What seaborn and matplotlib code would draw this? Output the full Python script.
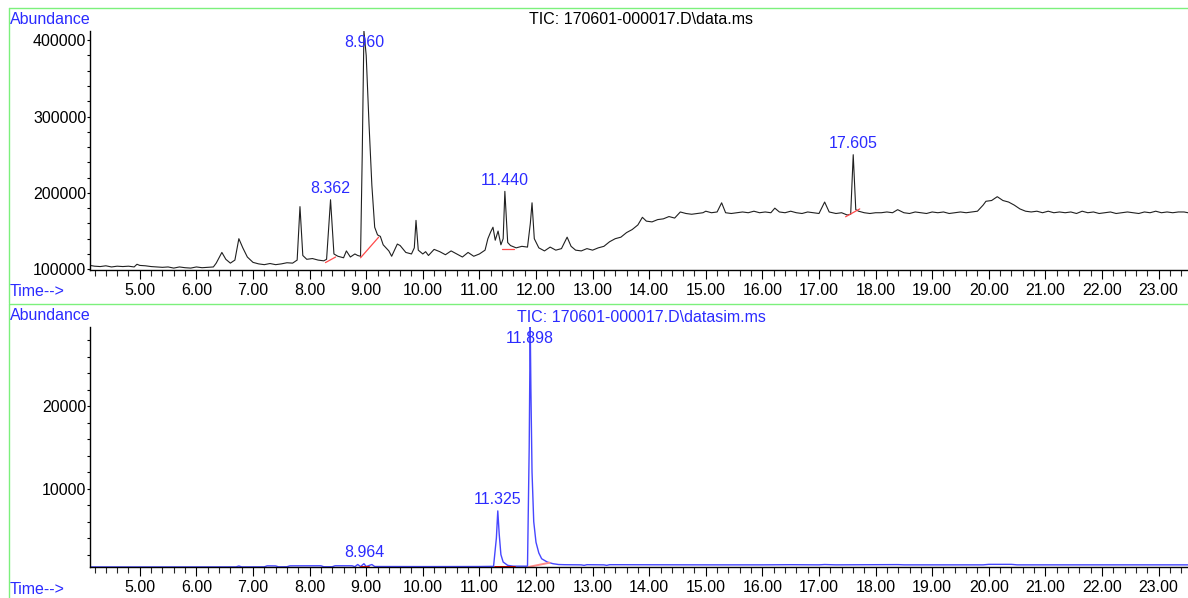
"""
plot.py

GC-MS chromatogram: TIC scan trace (top) and SIM trace (bottom).
"""

import matplotlib
matplotlib.use("Agg")

import matplotlib.pyplot as plt
from matplotlib.ticker import MultipleLocator
from matplotlib.lines import Line2D
import seaborn as sns
import numpy as np
import pandas as pd

sns.set_theme(style="white")

plt.rcParams["font.family"] = ["Liberation Sans", "DejaVu Sans"]
plt.rcParams["font.size"] = 11.5

BLUE = "#2b2bff"
TRACE_BLUE = "#4646ff"
RED = "#ff4a4a"
GREEN = "#7cf07c"

# =====================================================
# Data
# =====================================================

# scan TIC, retention time (min) and abundance (thousands)
tic_rt = [
    4.12, 4.2, 4.3, 4.4, 4.5, 4.6, 4.7, 4.8, 4.9, 4.95,
    5.0, 5.1, 5.2, 5.3, 5.4, 5.5, 5.6, 5.7, 5.8, 5.9,
    6.0, 6.1, 6.2, 6.3, 6.35, 6.45, 6.52, 6.6, 6.68, 6.75,
    6.82, 6.9, 7.0, 7.1, 7.2, 7.3, 7.4, 7.5, 7.6, 7.7,
    7.78, 7.83, 7.88, 7.95, 8.05, 8.15, 8.25, 8.3, 8.37, 8.43,
    8.5, 8.6, 8.65, 8.72, 8.8, 8.85, 8.9, 8.93, 8.96, 9.0,
    9.05, 9.1, 9.15, 9.2, 9.25, 9.3, 9.4, 9.45, 9.55, 9.6,
    9.7, 9.8, 9.85, 9.88, 9.92, 10.0, 10.05, 10.1, 10.2, 10.3,
    10.4, 10.5, 10.6, 10.7, 10.8, 10.9, 11.0, 11.1, 11.15, 11.2,
    11.24, 11.28, 11.33, 11.38, 11.42, 11.45, 11.5, 11.55, 11.65, 11.75,
    11.85, 11.9, 11.93, 11.97, 12.05, 12.15, 12.25, 12.35, 12.45, 12.55,
    12.62, 12.7, 12.8, 12.9, 13.0, 13.1, 13.2, 13.3, 13.4, 13.5,
    13.6, 13.7, 13.8, 13.88, 13.95, 14.05, 14.15, 14.25, 14.35, 14.45,
    14.55, 14.65, 14.75, 14.85, 14.95, 15.0, 15.1, 15.2, 15.28, 15.35,
    15.45, 15.55, 15.65, 15.75, 15.85, 15.95, 16.05, 16.15, 16.22, 16.3,
    16.4, 16.5, 16.6, 16.7, 16.8, 16.9, 17.0, 17.1, 17.18, 17.3,
    17.4, 17.5, 17.56, 17.605, 17.65, 17.7, 17.8, 17.9, 18.0, 18.1,
    18.2, 18.3, 18.39, 18.5, 18.6, 18.7, 18.8, 18.9, 19.0, 19.1,
    19.2, 19.3, 19.4, 19.5, 19.6, 19.7, 19.8, 19.9, 19.95, 20.05,
    20.15, 20.25, 20.35, 20.45, 20.55, 20.65, 20.75, 20.85, 20.95, 21.05,
    21.15, 21.25, 21.35, 21.45, 21.55, 21.65, 21.75, 21.85, 21.95, 22.05,
    22.15, 22.25, 22.35, 22.45, 22.55, 22.65, 22.75, 22.85, 22.95, 23.05,
    23.15, 23.25, 23.35, 23.45, 23.52,
]
tic_k = [
    105, 104, 103.5, 104.5, 103, 104, 103.5, 104, 103, 106.5,
    105, 104.5, 103.5, 103, 102.5, 103, 101.5, 103, 102, 101.5,
    103, 102, 102.5, 103, 108, 122, 113, 108, 112, 140,
    128, 116, 109, 107, 106, 107.5, 106, 107, 108.5, 108,
    112, 182, 118, 113, 114, 112, 111, 113, 191, 120,
    117, 115, 124, 116, 120, 118, 117, 250, 412, 380,
    290, 210, 155, 145, 143, 132, 124, 117, 133, 131,
    122, 120, 128, 164, 125, 120, 123, 118, 126, 123,
    119, 124, 120, 116, 122, 117, 120, 125, 140, 149,
    155, 138, 150, 132, 140, 202, 135, 131, 128, 130,
    129, 160, 187, 140, 128, 124, 129, 125, 127, 142,
    130, 125, 124, 127, 125, 128, 130, 136, 140, 142,
    148, 152, 158, 168, 163, 162, 165, 166, 169, 167,
    175, 173, 172, 173, 174, 176, 174, 175, 187, 174,
    173, 174, 175, 174, 176, 174, 175, 174, 180, 175,
    174, 176, 174, 173, 175, 174, 173, 188, 175, 173,
    174, 171, 172, 250, 178, 176, 174, 173, 174, 174,
    175, 174, 178, 174, 173, 175, 174, 173, 175, 174,
    175, 173, 174, 175, 174, 175, 176, 184, 189, 190,
    195, 190, 188, 184, 179, 176, 175, 176, 174, 176,
    174, 175, 174, 175, 173, 176, 174, 175, 173, 174,
    175, 173, 174, 175, 174, 173, 175, 174, 176, 174,
    175, 174, 175, 175, 174,
]

# SIM trace, retention time (min) and abundance
sim_rt = [
    4.12, 5.0, 6.0, 6.7, 6.75, 6.8, 7.2, 7.25, 7.4, 7.45,
    7.6, 7.65, 8.2, 8.25, 8.4, 8.45, 8.75, 8.8, 8.85, 8.9,
    8.96, 9.0, 9.1, 9.15, 10.0, 11.0, 11.25, 11.3, 11.325, 11.35,
    11.38, 11.42, 11.5, 11.6, 11.85, 11.88, 11.898, 11.91, 11.93, 11.96,
    12.0, 12.05, 12.1, 12.2, 12.3, 12.4, 12.5, 12.8, 12.85, 12.9,
    13.2, 13.25, 13.3, 14.0, 15.0, 16.0, 16.5, 17.0, 17.1, 17.3,
    17.6, 18.4, 18.5, 19.9, 20.0, 20.4, 20.5, 23.52,
]
sim_abund = [
    510, 505, 510, 515, 620, 515, 520, 640, 630, 520,
    530, 640, 650, 530, 530, 650, 650, 540, 800, 550,
    900, 560, 800, 560, 550, 560, 580, 4000, 7300, 4500,
    2000, 1100, 700, 600, 600, 15000, 30000, 22000, 12000, 6000,
    3500, 2200, 1500, 1100, 900, 800, 780, 760, 700, 780,
    760, 700, 780, 770, 760, 760, 780, 760, 800, 760,
    770, 790, 760, 760, 820, 820, 760, 760,
]

# labelled peaks
tic_peaks = [8.362, 8.960, 11.440, 17.605]
sim_peaks = [8.964, 11.325, 11.898]

# integration baselines: (start rt, start value, end rt, end value)
tic_bases = [
    (8.28, 108700, 8.46, 116000),
    (8.90, 115000, 9.22, 142000),
    (11.40, 126000, 11.61, 126000),
    (17.47, 168700, 17.72, 179000),
]
sim_bases = [
    (8.90, 520, 9.05, 520),
    (11.27, 510, 11.63, 510),
    (11.87, 510, 12.24, 1020),
]
sim_base_colors = ["#e01010", "#d00000", "#ff8a8a"]

tic = pd.DataFrame({"rt": tic_rt, "abund": np.array(tic_k) * 1000})
sim = pd.DataFrame({"rt": sim_rt, "abund": sim_abund})

# =====================================================
# Figure
# =====================================================

W, H = 1188, 598
fig = plt.figure(figsize=(W / 100, H / 100), dpi=100)


def px_axes(left, top, right, bottom):
    return fig.add_axes([left / W, 1 - bottom / H,
                         (right - left) / W, (bottom - top) / H])


ax_top = px_axes(90, 31, 1188, 270)
ax_bot = px_axes(90, 327, 1188, 567)


def style_axis(ax, ylim, major, minor):

    ax.set_xlim(4.12, 23.52)
    ax.set_ylim(*ylim)

    for side in ["top", "right"]:
        ax.spines[side].set_visible(False)
    for side in ["left", "bottom"]:
        ax.spines[side].set_color("black")
        ax.spines[side].set_linewidth(1.0)

    ax.xaxis.set_major_locator(MultipleLocator(1.0))
    ax.xaxis.set_minor_locator(MultipleLocator(0.2))
    ax.yaxis.set_major_locator(MultipleLocator(major))
    ax.yaxis.set_minor_locator(MultipleLocator(minor))
    ax.xaxis.set_major_formatter(lambda v, p: f"{v:.2f}")
    ax.yaxis.set_major_formatter(lambda v, p: f"{int(v)}")

    ax.tick_params(axis="x", which="major", direction="out", length=6.5,
                   width=0.8, pad=3, colors="black", labelsize=11.5,
                   bottom=True)
    ax.tick_params(axis="x", which="minor", direction="out", length=4,
                   width=0.8, bottom=True)
    ax.tick_params(axis="y", which="both", direction="out", length=2.2,
                   width=0.8, pad=0.5, colors="black", labelsize=11.5,
                   left=True)

    ax.set_xlabel("")
    ax.set_ylabel("")
    ax.grid(False)
    ax.patch.set_alpha(0)


def label_peaks(ax, df, peaks, color):

    ytop = ax.get_ylim()[1]

    for rt in peaks:
        near = df[(df["rt"] - rt).abs() <= 0.03]
        apex = near["abund"].max()

        if apex >= 0.95 * ytop:
            ax.annotate(f"{rt:.3f}", xy=(rt, ytop), xytext=(0, -8),
                        textcoords="offset points", ha="center",
                        va="center", color=color, fontsize=11.5,
                        annotation_clip=False)
        else:
            ax.annotate(f"{rt:.3f}", xy=(rt, apex), xytext=(0, 8),
                        textcoords="offset points", ha="center",
                        va="center", color=color, fontsize=11.5)


# ---------------- top: TIC ----------------

sns.lineplot(data=tic, x="rt", y="abund", ax=ax_top, color="#202020",
             linewidth=0.8, sort=False, estimator=None)

for x0, y0, x1, y1 in tic_bases:
    ax_top.plot([x0, x1], [y0, y1], color=RED, linewidth=0.9)

style_axis(ax_top, (99000, 412000), 100000, 20000)
label_peaks(ax_top, tic, tic_peaks, BLUE)

# ---------------- bottom: SIM ----------------

sns.lineplot(data=sim, x="rt", y="abund", ax=ax_bot, color=TRACE_BLUE,
             linewidth=1.0, sort=False, estimator=None)

for (x0, y0, x1, y1), c in zip(sim_bases, sim_base_colors):
    ax_bot.plot([x0, x1], [y0, y1], color=c, linewidth=1.4)

style_axis(ax_bot, (500, 29600), 10000, 2000)
label_peaks(ax_bot, sim, sim_peaks, BLUE)

# =====================================================
# Frame texts and green borders
# =====================================================


def fig_text(x, y, s, **kw):
    fig.text(x / W, 1 - y / H, s, fontsize=11.5, va="center", **kw)


fig_text(10, 19, "Abundance", color=BLUE)
fig_text(10, 292, "Time-->", color=BLUE)
fig_text(641, 19, "TIC: 170601-000017.D\\data.ms", color="black",
         ha="center")

fig_text(10, 316, "Abundance", color=BLUE)
fig_text(10, 590, "Time-->", color=BLUE)
fig_text(641, 317, "TIC: 170601-000017.D\\datasim.ms", color=BLUE,
         ha="center")

for xs, ys in [
    ([9, W], [8, 8]),
    ([9, 9], [8, 303]),
    ([9, W], [303.5, 303.5]),
    ([9, 9], [304, H]),
]:
    fig.add_artist(Line2D([x / W for x in xs], [1 - y / H for y in ys],
                          color=GREEN, linewidth=1.0))

fig.savefig("out.png", dpi=100)
